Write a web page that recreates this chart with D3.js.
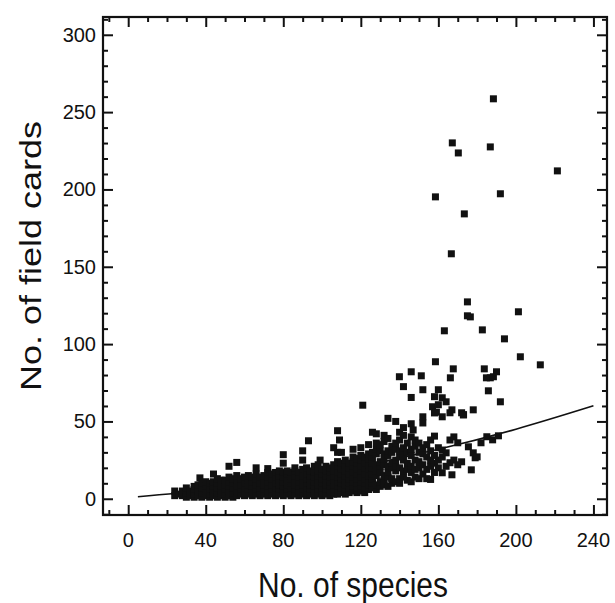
<!DOCTYPE html>
<html>
<head>
<meta charset="utf-8">
<script src="https://cdn.jsdelivr.net/npm/d3@7"></script>
<style>
  body { margin: 0; background: #fff; }
  text { font-family: 'Liberation Sans', Arial, sans-serif; fill: #111; }
</style>
</head>
<body>
<div id="chart"></div>
<script>
// tick values
const xTicks = [0, 40, 80, 120, 160, 200, 240]
const yTicks = [0, 50, 100, 150, 200, 250, 300]

// fitted curve
const fitSpecies = [5, 40, 80, 120, 160, 200, 240]
const fitCards = [1.3, 5.5, 12.2, 21.1, 32.0, 45.0, 60.1]

// main cluster, [species, cards]
const clusterSites = [
  [24, 2], [24, 5], [26, 3], [28, 2], [28, 5], [30, 1], [30, 4], [30, 7], [32, 2], [32, 5],
  [34, 1], [34, 3], [34, 6], [34, 8], [36, 2], [36, 5], [36, 9], [37, 13.5], [38, 1], [38, 4],
  [38, 7], [38, 10], [40, 2], [40, 5], [40, 8], [40, 11], [42, 1], [42, 3], [42, 6], [42, 10],
  [44, 2], [44, 5], [44, 8], [44, 11], [44, 16], [46, 1], [46, 4], [46, 7], [46, 10], [46, 13],
  [48, 2], [48, 5], [48, 8], [48, 12], [50, 1], [50, 3], [50, 6], [50, 9], [50, 12],
  [52, 2], [52, 5], [52, 8], [52, 11], [52, 14], [52, 21], [54, 1], [54, 4], [54, 7], [54, 10], [54, 13],
  [56, 2], [56, 5], [56, 8], [56, 12], [56, 15], [56, 23.5], [58, 3], [58, 6], [58, 9], [58, 13],
  [60, 2], [60, 4], [60, 7], [60, 10], [60, 14], [62, 3], [62, 6], [62, 9], [62, 12], [62, 15],
  [64, 2], [64, 5], [64, 8], [64, 11], [64, 14], [66, 3], [66, 6], [66, 9], [66, 13], [66, 16], [66, 20],
  [68, 2], [68, 4], [68, 7], [68, 10], [68, 14], [70, 3], [70, 6], [70, 9], [70, 12], [70, 15],
  [72, 2], [72, 5], [72, 8], [72, 11], [72, 14], [72, 17], [72, 19.5], [74, 3], [74, 6], [74, 9], [74, 13], [74, 16],
  [76, 2], [76, 4], [76, 7], [76, 10], [76, 14], [76, 17], [78, 3], [78, 6], [78, 9], [78, 12], [78, 15], [78, 18],
  [80, 2], [80, 5], [80, 8], [80, 11], [80, 14], [80, 17], [80, 23], [80, 28.5],
  [82, 3], [82, 6], [82, 9], [82, 12], [82, 16], [82, 18], [84, 2], [84, 4], [84, 7], [84, 10], [84, 13], [84, 17],
  [86, 3], [86, 6], [86, 9], [86, 12], [86, 15], [86, 18], [86, 20], [88, 2], [88, 5], [88, 8], [88, 11], [88, 14], [88, 17],
  [90, 3], [90, 6], [90, 9], [90, 12], [90, 15], [90, 19], [90, 25], [90, 31],
  [92, 2], [92, 4], [92, 7], [92, 10], [92, 13], [92, 16], [92, 20], [93, 37.5],
  [94, 3], [94, 6], [94, 9], [94, 12], [94, 15], [94, 18], [96, 2], [96, 5], [96, 8], [96, 11], [96, 14], [96, 17], [96, 21],
  [98, 3], [98, 6], [98, 9], [98, 12], [98, 15], [98, 18], [98, 22], [99, 25],
  [100, 2], [100, 4], [100, 7], [100, 10], [100, 13], [100, 16], [100, 19],
  [102, 3], [102, 6], [102, 9], [102, 12], [102, 15], [102, 18], [102, 21],
  [104, 2], [104, 5], [104, 8], [104, 11], [104, 14], [104, 17], [104, 20],
  [106, 3], [106, 6], [106, 9], [106, 12], [106, 15], [106, 18], [106, 22], [106, 33],
  [108, 3], [108, 5], [108, 8], [108, 11], [108, 14], [108, 17], [108, 21], [108, 24], [108, 30], [108, 44], [109, 38],
  [110, 4], [110, 7], [110, 10], [110, 13], [110, 16], [110, 19], [110, 23], [110, 30],
  [112, 3], [112, 6], [112, 9], [112, 12], [112, 15], [112, 18], [112, 22], [112, 25],
  [114, 4], [114, 7], [114, 10], [114, 13], [114, 16], [114, 20], [114, 23],
  [116, 5], [116, 8], [116, 11], [116, 14], [116, 17], [116, 21], [116, 24], [116, 27], [116, 32],
  [118, 4], [118, 7], [118, 10], [118, 13], [118, 16], [118, 19], [118, 23], [118, 26],
  [120, 5], [120, 8], [120, 11], [120, 14], [120, 18], [120, 21], [120, 25], [120, 28], [120, 33], [121, 60.5],
  [122, 4], [122, 7], [122, 10], [122, 13], [122, 16], [122, 20], [122, 23], [122, 27],
  [124, 6], [124, 9], [124, 12], [124, 15], [124, 19], [124, 22], [124, 26], [124, 29], [124, 35],
  [126, 7], [126, 10], [126, 13], [126, 16], [126, 20], [126, 23], [126, 27], [126, 30], [126, 43],
  [128, 6], [128, 9], [128, 15], [128, 18], [128, 22], [128, 29], [128, 32], [128, 36], [128, 42],
  [130, 8], [130, 11], [130, 17], [130, 21], [130, 24], [130, 31], [130, 35],
  [132, 9], [132, 12], [132, 15], [132, 22], [132, 26], [132, 29], [132, 37], [132, 41],
  [134, 8], [134, 14], [134, 17], [134, 21], [134, 28], [134, 31], [134, 39], [134, 52],
  [136, 10], [136, 13], [136, 20], [136, 23], [136, 30], [136, 34],
  [138, 11], [138, 18], [138, 21], [138, 25], [138, 32], [138, 36], [138, 50],
  [140, 10], [140, 13], [140, 20], [140, 27], [140, 31], [140, 38], [140, 43],
  [142, 14], [142, 18], [142, 25], [142, 29], [142, 33], [142, 41], [142, 46], [142, 72.5],
  [144, 12], [144, 19], [144, 23], [144, 30], [144, 36],
  [146, 11], [146, 17], [146, 21], [146, 28], [146, 32], [146, 40], [146, 48.5], [146, 65.5], [147, 44.5],
  [148, 14], [148, 19], [148, 25], [148, 34], [148, 38],
  [150, 13], [150, 20], [150, 24], [150, 30], [150, 36],
  [152, 16], [152, 22], [152, 29], [152, 33], [152, 49], [152, 53], [152, 70.5],
  [154, 13], [154, 19], [154, 27], [154, 35],
  [156, 12.5], [156, 21], [156, 25], [156, 31], [156, 38], [157, 59.5],
  [158, 17], [158, 23], [158, 28], [158, 40.5], [158, 55.5], [158, 66], [159, 56],
  [160, 20], [160, 25], [160, 33], [160, 60.8], [160, 70.5],
  [162, 16.8], [162, 27], [162, 31.5], [162, 53], [162, 65.3],
  [164, 21], [164, 29.7], [164, 62.7], [166, 23.3], [166, 38], [166, 55.6],
  [167, 15.5], [167, 57.5], [168, 25], [168, 40], [170, 22], [170, 36.2], [172, 23.9], [172, 55.6], [173, 54.3],
  [175.5, 33.6], [177, 18.7], [178, 29.7], [179, 26.5], [180, 27.1], [178, 57.5],
  [182, 36.2], [185, 40.1], [188, 38.1], [191, 40.7]
]

// scattered high counts, [species, cards]
const outlierSites = [
  [188.4, 258.6], [167.2, 230.1], [170.3, 223.6], [186.8, 227.5], [221.4, 212], [158.5, 195.2],
  [192, 197.2], [173.4, 184.2], [166.7, 158.4], [175, 127.3], [175, 118.3], [176.5, 117.6],
  [201.3, 120.9], [163.1, 108.6], [182.7, 109.2], [194.1, 103.4], [158.5, 88.6], [202.3, 91.8],
  [212.6, 86.6], [146, 82.1], [151.2, 79.5], [139.9, 78.9], [167.7, 84], [166.2, 78.2],
  [183.7, 84], [190, 82.1], [186.8, 78.2], [184.8, 78.2], [188.4, 78.9], [185.8, 69.8],
  [192, 62.7], [172.9, 54.3]
]

document.addEventListener('DOMContentLoaded', function () {
  const width = 615
  const height = 603
  const frame = { left: 103, right: 607, top: 17, bottom: 515 }

  const svg = d3.select('#chart')
    .append('svg')
    .attr('width', width)
    .attr('height', height)

  const x = d3.scaleLinear().domain([-13, 247]).range([frame.left, frame.right])
  const y = d3.scaleLinear().domain([-10.5, 311.5]).range([frame.bottom, frame.top])

  const xMinor = d3.range(-10, 247, 10).filter(v => v % 40 !== 0)
  const yMinor = d3.range(-10, 311, 10).filter(v => v % 50 !== 0)

  // inward ticks on all four sides
  function ticks (axis, scale, values, size, transform) {
    const g = svg.append('g')
      .attr('transform', transform)
      .call(axis(scale).tickValues(values).tickSize(size).tickFormat(''))
    g.select('.domain').remove()
    g.selectAll('line').attr('stroke', '#111').attr('stroke-width', 2)
  }
  ticks(d3.axisBottom, x, xTicks, -10, `translate(0,${frame.bottom})`)
  ticks(d3.axisBottom, x, xMinor, -5, `translate(0,${frame.bottom})`)
  ticks(d3.axisTop, x, xTicks, -10, `translate(0,${frame.top})`)
  ticks(d3.axisTop, x, xMinor, -5, `translate(0,${frame.top})`)
  ticks(d3.axisLeft, y, yTicks, -10, `translate(${frame.left},0)`)
  ticks(d3.axisLeft, y, yMinor, -5, `translate(${frame.left},0)`)
  ticks(d3.axisRight, y, yTicks, -10, `translate(${frame.right},0)`)
  ticks(d3.axisRight, y, yMinor, -5, `translate(${frame.right},0)`)

  svg.append('rect')
    .attr('x', frame.left)
    .attr('y', frame.top)
    .attr('width', frame.right - frame.left)
    .attr('height', frame.bottom - frame.top)
    .attr('fill', 'none')
    .attr('stroke', '#111')
    .attr('stroke-width', 2.2)

  // tick labels
  svg.append('g')
    .selectAll('text')
    .data(xTicks)
    .enter()
    .append('text')
    .attr('x', d => x(d))
    .attr('y', 547)
    .attr('text-anchor', 'middle')
    .style('font-size', '20px')
    .text(d => d)

  svg.append('g')
    .selectAll('text')
    .data(yTicks)
    .enter()
    .append('text')
    .attr('x', 96)
    .attr('y', d => y(d) + 7)
    .attr('text-anchor', 'end')
    .style('font-size', '20px')
    .text(d => d)

  // axis titles
  svg.append('text')
    .attr('transform', 'translate(353,597) scale(1,1.15)')
    .attr('text-anchor', 'middle')
    .style('font-size', '30px')
    .text('No. of species')

  svg.append('text')
    .attr('transform', 'translate(41,256) rotate(-90) scale(1.2,1)')
    .attr('text-anchor', 'middle')
    .style('font-size', '30px')
    .text('No. of field cards')

  // fitted line
  const line = d3.line()
    .x(d => x(d[0]))
    .y(d => y(d[1]))
    .curve(d3.curveMonotoneX)

  svg.append('path')
    .datum(fitSpecies.map((s, i) => [s, fitCards[i]]))
    .attr('d', line)
    .attr('fill', 'none')
    .attr('stroke', '#111')
    .attr('stroke-width', 1.6)

  // points
  const size = 7
  svg.append('g')
    .selectAll('rect')
    .data(clusterSites.concat(outlierSites))
    .enter()
    .append('rect')
    .attr('x', d => x(d[0]) - size / 2)
    .attr('y', d => y(d[1]) - size / 2)
    .attr('width', size)
    .attr('height', size)
    .attr('fill', '#111')
})
</script>
</body>
</html>
